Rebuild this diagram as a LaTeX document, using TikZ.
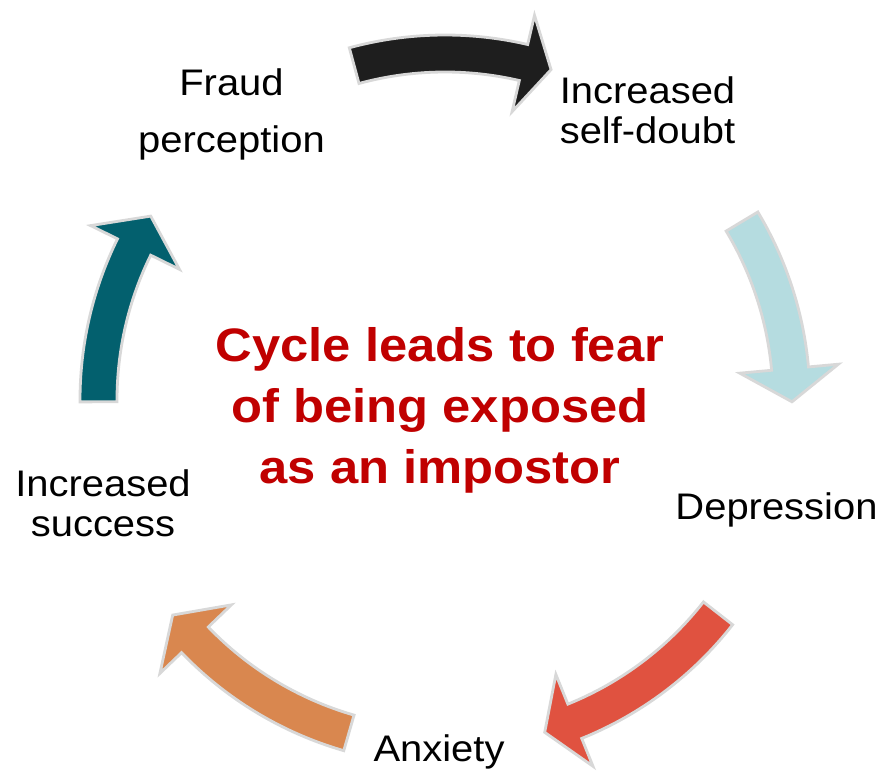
\documentclass[tikz,border=0pt]{standalone}
\usepackage{fontspec}
\setmainfont{Liberation Sans}[FakeStretch=1.08]
\usepackage{tikz}

\definecolor{arrowblack}{HTML}{1E1E1E}
\definecolor{arrowblue}{HTML}{B5DCE0}
\definecolor{arrowred}{HTML}{E05240}
\definecolor{arroworange}{HTML}{D9874F}
\definecolor{arrowteal}{HTML}{03606E}
\definecolor{ringgray}{HTML}{D8D8D8}
\definecolor{titlered}{HTML}{C00000}

\begin{document}
\begin{tikzpicture}[x=0.025cm, y=0.025cm, line width=2pt,
    stagetext/.style={align=center, inner sep=0pt, font=\fontsize{26.3}{28.5}\selectfont},
    bentarrow/.style={draw=ringgray, line join=miter}]

% page size
\useasboundingbox (-445, -375) rectangle (439, 400);

% draw bent arrows: outer arc, head, inner arc back to the tail
\filldraw[bentarrow, fill=arrowblack] (105.2 : 365) arc [radius = 365, start angle = 105.2, end angle = 76.9]
                                      -- (76.9 : 395) -- (72.2 : 347) -- (76.9 : 296) -- (76.9 : 328)
                                      arc [radius = 328, start angle = 76.9, end angle = 105.2] -- cycle;

\filldraw[bentarrow, fill=arrowblue] (31.0 : 365) arc [radius = 365, start angle = 31.0, end angle = 5.2]
                                     -- (5.2 : 395) -- (-0.3 : 347) -- (5.2 : 296) -- (5.2 : 328)
                                     arc [radius = 328, start angle = 5.2, end angle = 31.0] -- cycle;

\filldraw[bentarrow, fill=arrowred] (-38.0 : 365) arc [radius = 365, start angle = -38.0, end angle = -68.0]
                                    -- (-68.0 : 395) -- (-73.3 : 347) -- (-68.0 : 296) -- (-68.0 : 328)
                                    arc [radius = 328, start angle = -68.0, end angle = -38.0] -- cycle;

\filldraw[bentarrow, fill=arroworange] (253.9 : 365) arc [radius = 365, start angle = 253.9, end angle = 223.8]
                                       -- (223.8 : 395) -- (218.3 : 347) -- (223.8 : 296) -- (223.8 : 328)
                                       arc [radius = 328, start angle = 223.8, end angle = 253.9] -- cycle;

\filldraw[bentarrow, fill=arrowteal] (180.3 : 365) arc [radius = 365, start angle = 180.3, end angle = 153.8]
                                     -- (153.8 : 395) -- (148.0 : 347) -- (153.8 : 296) -- (153.8 : 328)
                                     arc [radius = 328, start angle = 153.8, end angle = 180.3] -- cycle;

% draw stage labels
\node[stagetext, font=\fontsize{26.3}{40.5}\selectfont] (fraud) at (-213.5, 286) {Fraud\\perception};
\node[stagetext] (doubt) at (202.5, 289.5) {Increased\\self-doubt};
\node[stagetext] (depression) at (331.5, -109.5) {Depression};
\node[stagetext] (anxiety) at (-6, -352.4) {Anxiety};
\node[stagetext] (success) at (-342, -103.5) {Increased\\success};

% draw centre text
\node[align=center, inner sep=0pt, text=titlered, font=\fontsize{33.4}{43.4}\selectfont\bfseries] (centre) at (-5, -10.5)
    {Cycle leads to fear\\of being exposed\\as an impostor};

\end{tikzpicture}
\end{document}
